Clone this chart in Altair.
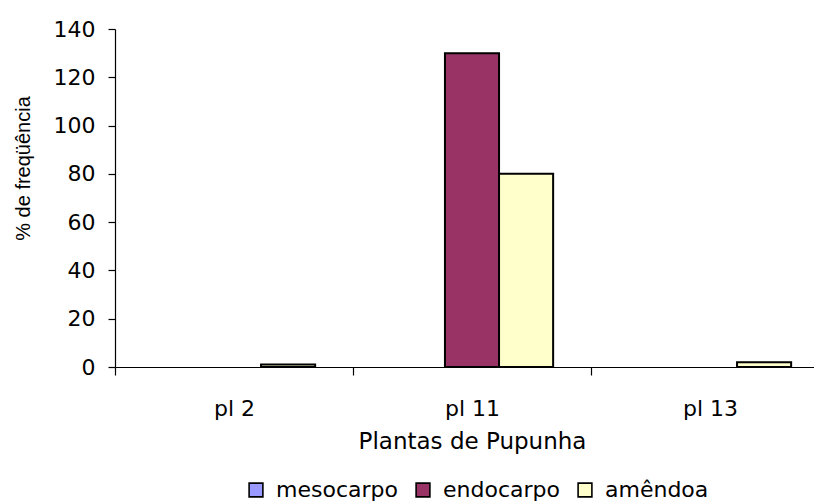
import altair as alt
import pandas as pd

plants = ["pl 2", "pl 11", "pl 13"]
series = ["mesocarpo", "endocarpo", "amêndoa"]
mesocarpo = [0, 0, 0]
endocarpo = [0, 130, 0]
amendoa = [1, 80, 2]
colors = ["#9999FF", "#993366", "#FFFFCC"]
y_ticks = [0, 20, 40, 60, 80, 100, 120, 140]

rows = []
for s, vals in zip(series, [mesocarpo, endocarpo, amendoa]):
    for p, v in zip(plants, vals):
        rows.append({"planta": p, "parte": s, "valor": v})
df = pd.DataFrame(rows)

FONT = "DejaVu Sans"
FS = 22

bars = (
    alt.Chart(df)
    .transform_filter("datum.valor > 0")
    .mark_bar(stroke="black", strokeWidth=2, opacity=1)
    .encode(
        x=alt.X(
            "planta:N",
            sort=plants,
            scale=alt.Scale(domain=plants, range=[0, 714], paddingInner=0, paddingOuter=0),
            axis=alt.Axis(
                title="Plantas de Pupunha",
                labelAngle=0,
                tickBand="extent",
                tickSize=8,
                labelPadding=23,
                labelFont=FONT,
                labelFontSize=FS,
                labelColor="black",
                titleFont=FONT,
                titleFontSize=23,
                titleFontWeight="normal",
                titleColor="black",
                titleX=357,
                titleY=63,
                titleBaseline="top",
                titleAlign="center",
                domainColor="black",
                tickColor="black",
                domainWidth=1.2,
                tickWidth=1.2,
                grid=False,
            ),
        ),
        xOffset=alt.XOffset(
            "parte:N",
            sort=series,
            scale=alt.Scale(domain=series, paddingInner=0, paddingOuter=0.7),
        ),
        y=alt.Y(
            "valor:Q",
            scale=alt.Scale(domain=[0, 140], nice=False),
            axis=alt.Axis(
                title="% de freqüência",
                values=y_ticks,
                tickSize=7,
                labelPadding=13,
                labelFont=FONT,
                labelFontSize=FS,
                labelColor="black",
                titleFont="Liberation Sans",
                titleFontSize=20,
                titleFontWeight="normal",
                titleColor="black",
                titleX=-82,
                titleY=139,
                titleAlign="center",
                titleBaseline="bottom",
                domainColor="black",
                tickColor="black",
                domainWidth=1.2,
                tickWidth=1.2,
                grid=False,
            ),
        ),
        color=alt.Color(
            "parte:N",
            sort=series,
            scale=alt.Scale(domain=series, range=colors),
            legend=alt.Legend(
                title=None,
                orient="none",
                legendX=130,
                legendY=450,
                direction="horizontal",
                symbolType="square",
                symbolSize=190,
                symbolStrokeColor="black",
                symbolStrokeWidth=1.6,
                symbolOpacity=1,
                labelFont=FONT,
                labelFontSize=FS,
                labelColor="black",
                labelOffset=9,
                columnPadding=14,
                padding=0,
            ),
        ),
    )
)

chart = (
    bars.properties(
        width=699,
        height=338,
        autosize=alt.AutoSizeParams(type="none"),
        padding={"left": 107, "top": 21, "right": 0, "bottom": 137},
        background="white",
    )
    .configure_view(stroke=None)
)

chart.save("out.html", embed_options={"renderer": "svg", "actions": False})
